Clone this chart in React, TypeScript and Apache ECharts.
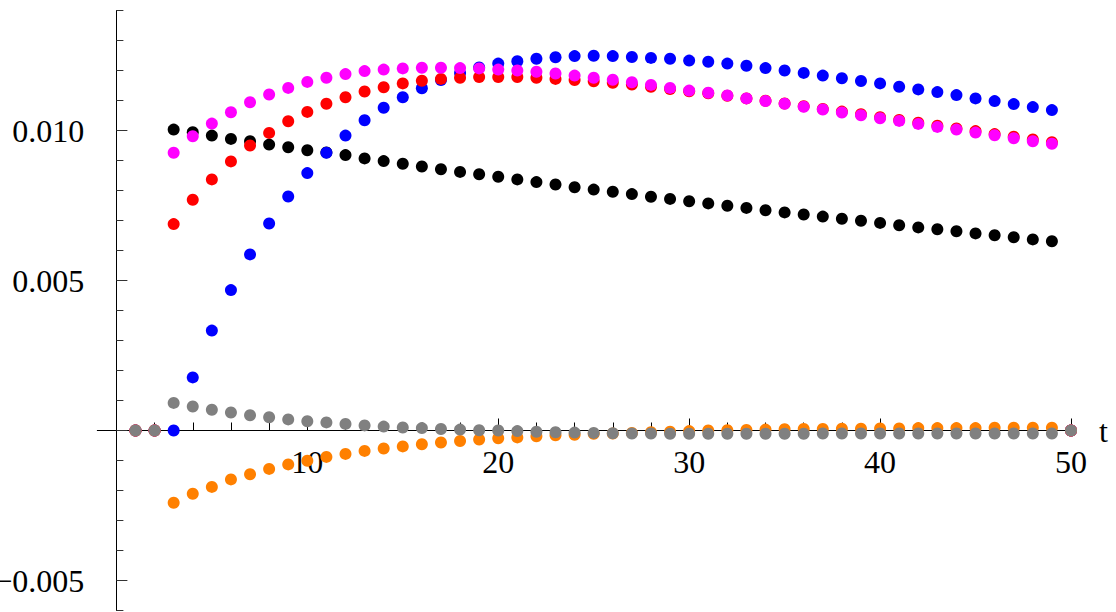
import React, { useEffect, useRef } from "react";
import * as echarts from "echarts";

// t = 1 .. 50
const tValues = Array.from({ length: 50 }, (_, i) => i + 1);

const blackVals = [0, 0, 0.01003, 0.00994, 0.00983, 0.00972, 0.00964, 0.00953, 0.00944, 0.00934, 0.00927, 0.00918, 0.00907, 0.00898, 0.00889, 0.0088, 0.00871, 0.00862, 0.00854, 0.00846, 0.00837, 0.00828, 0.0082, 0.00811, 0.00803, 0.00796, 0.00788, 0.00779, 0.00772, 0.00764, 0.00757, 0.00749, 0.00742, 0.00734, 0.00727, 0.0072, 0.00713, 0.00706, 0.00699, 0.00692, 0.00684, 0.00677, 0.00671, 0.00664, 0.00657, 0.00651, 0.00644, 0.00637, 0.00631, 0];
const blueVals = [0, 0, 0, 0.00177, 0.00333, 0.00468, 0.00587, 0.0069, 0.0078, 0.00858, 0.00926, 0.00983, 0.01034, 0.01076, 0.01111, 0.01141, 0.01168, 0.01192, 0.0121, 0.01223, 0.01231, 0.01239, 0.01244, 0.01248, 0.01249, 0.01248, 0.01245, 0.01242, 0.01239, 0.01233, 0.01229, 0.01223, 0.01216, 0.01208, 0.012, 0.01192, 0.01183, 0.01174, 0.01165, 0.01157, 0.01146, 0.01137, 0.01128, 0.01118, 0.01107, 0.01098, 0.01088, 0.01078, 0.01068, 0];
const redVals = [0, 0, 0.00688, 0.00769, 0.00837, 0.00897, 0.0095, 0.00992, 0.01031, 0.01062, 0.01089, 0.01111, 0.0113, 0.01144, 0.01157, 0.01166, 0.01172, 0.01176, 0.01178, 0.01178, 0.01178, 0.01176, 0.01172, 0.01168, 0.01164, 0.01159, 0.01153, 0.01146, 0.01138, 0.01131, 0.01124, 0.01116, 0.01107, 0.01099, 0.0109, 0.01081, 0.01072, 0.01063, 0.01054, 0.01044, 0.01035, 0.01026, 0.01016, 0.01007, 0.00998, 0.00988, 0.00979, 0.0097, 0.00961, 0];
const magentaVals = [0, 0, 0.00926, 0.00981, 0.01023, 0.01061, 0.01094, 0.0112, 0.01142, 0.01162, 0.01176, 0.01188, 0.01198, 0.01203, 0.01207, 0.01209, 0.01209, 0.01208, 0.01207, 0.01203, 0.012, 0.01196, 0.0119, 0.01183, 0.01176, 0.01169, 0.01161, 0.01152, 0.01142, 0.01133, 0.01126, 0.01117, 0.01107, 0.01098, 0.01089, 0.01079, 0.0107, 0.0106, 0.01051, 0.01041, 0.01032, 0.01022, 0.01012, 0.01003, 0.00993, 0.00984, 0.00974, 0.00964, 0.00956, 0];
const orangeVals = [0, 0, -0.00241, -0.00211, -0.00188, -0.00163, -0.00146, -0.00128, -0.00113, -0.00101, -0.00088, -0.00078, -0.00068, -0.0006, -0.00053, -0.00046, -0.0004, -0.00035, -0.0003, -0.00026, -0.00023, -0.00019, -0.00016, -0.00014, -0.00011, -0.0001, -0.00008, -0.00006, -0.00004, -0.00002, 0, 0.00001, 0.00002, 0.00003, 0.00004, 0.00005, 0.00005, 0.00006, 0.00006, 0.00007, 0.00007, 0.00008, 0.00008, 0.00008, 0.00008, 0.00009, 0.00009, 0.00009, 0.00009, 0];
const grayVals = [0, 0, 0.00092, 0.0008, 0.00069, 0.0006, 0.00051, 0.00044, 0.00037, 0.00031, 0.00027, 0.00022, 0.00017, 0.00013, 0.0001, 0.00008, 0.00005, 0.00003, 0.00001, 0, -0.00002, -0.00004, -0.00006, -0.00007, -0.00008, -0.00009, -0.0001, -0.0001, -0.00011, -0.00011, -0.00011, -0.00011, -0.00011, -0.00011, -0.00011, -0.00011, -0.0001, -0.0001, -0.0001, -0.0001, -0.0001, -0.0001, -0.0001, -0.0001, -0.0001, -0.0001, -0.0001, -0.0001, -0.0001, 0];

const xMajorTicks = [10, 20, 30, 40, 50];
const xMinorTicks = [2, 4, 6, 8, 12, 14, 16, 18, 22, 24, 26, 28, 32, 34, 36, 38, 42, 44, 46, 48];
const yMajorTicks = [-0.005, 0, 0.005, 0.01];
const yLabelValues = [-0.005, 0.005, 0.01];
const yMinorTicks = [-0.006, -0.004, -0.003, -0.002, -0.001, 0.001, 0.002, 0.003, 0.004, 0.006, 0.007, 0.008, 0.009, 0.011, 0.012, 0.013, 0.014];

const seriesDefs = [
  { name: "black", color: "#000000", values: blackVals },
  { name: "blue", color: "#0000ff", values: blueVals },
  { name: "red", color: "#ff0000", values: redVals },
  { name: "magenta", color: "#ff00ff", values: magentaVals },
  { name: "orange", color: "#ff8000", values: orangeVals },
  { name: "gray", color: "#808080", values: grayVals },
];

const FONT = "Liberation Serif";

export default function App() {
  const ref = useRef<HTMLDivElement>(null);
  useEffect(() => {
    if (!ref.current) return;
    const chart = echarts.init(ref.current, undefined, { renderer: "svg" });
    const X_MIN = -1;
    const X_MAX = 50;
    const Y_MIN = -0.006;
    const Y_MAX = 0.014;
    const GRID_TOP = 10.5;
    const GRID_BOTTOM = 1.5;
    const gridH = 612 - GRID_TOP - GRID_BOTTOM;
    // distance from grid bottom up to the y = 0 line
    const zeroOffset = -gridH * ((0 - Y_MIN) / (Y_MAX - Y_MIN));
    const lineColor = "#000";
    const tickColor = "#333";
    chart.setOption({
      animation: false,
      backgroundColor: "#fff",
      grid: { left: 97.3, right: 45, top: GRID_TOP, bottom: GRID_BOTTOM, containLabel: false, outerBoundsMode: "none" },
      xAxis: [
        {
          type: "value",
          position: "bottom",
          offset: zeroOffset,
          min: X_MIN,
          max: X_MAX,
          axisLine: { show: true, onZero: false, lineStyle: { color: lineColor, width: 1 } },
          axisTick: { show: true, inside: true, length: 12, customValues: xMajorTicks, lineStyle: { color: lineColor, width: 1 } },
          axisLabel: {
            show: true,
            customValues: xMajorTicks,
            margin: 15,
            fontSize: 32,
            fontFamily: FONT,
            color: "#000",
          },
          splitLine: { show: false },
          name: "t",
          nameLocation: "end",
          nameGap: 28,
          nameTextStyle: { fontSize: 32, fontFamily: FONT, color: "#000" },
        },
        {
          type: "value",
          position: "bottom",
          offset: zeroOffset,
          min: X_MIN,
          max: X_MAX,
          axisLine: { show: false, onZero: false },
          axisTick: { show: true, inside: true, length: 8, customValues: xMinorTicks, lineStyle: { color: lineColor, width: 1 } },
          axisLabel: { show: false },
          splitLine: { show: false },
        },
      ],
      yAxis: [
        {
          type: "value",
          position: "left",
          min: Y_MIN,
          max: Y_MAX,
          axisLine: { show: true, onZero: true, lineStyle: { color: lineColor, width: 1 } },
          axisTick: { show: true, inside: true, length: 11, customValues: yMajorTicks, lineStyle: { color: tickColor, width: 1 } },
          axisLabel: {
            show: true,
            customValues: yLabelValues,
            margin: 13,
            fontSize: 32,
            fontFamily: FONT,
            color: "#000",
            formatter: (v: number) => {
              const s = Math.abs(v).toFixed(3);
              return v < 0 ? "\u2212" + s : s;
            },
          },
          splitLine: { show: false },
        },
        {
          type: "value",
          position: "left",
          min: Y_MIN,
          max: Y_MAX,
          axisLine: { show: false, onZero: true },
          axisTick: { show: true, inside: true, length: 7, customValues: yMinorTicks, lineStyle: { color: tickColor, width: 1 } },
          axisLabel: { show: false },
          splitLine: { show: false },
        },
      ],
      series: seriesDefs.map((s) => ({
        name: s.name,
        type: "scatter",
        xAxisIndex: 0,
        yAxisIndex: 0,
        symbol: "circle",
        symbolSize: 12,
        itemStyle: { color: s.color, opacity: 1 },
        emphasis: { disabled: true },
        data: tValues.map((t, i) => [t, s.values[i]]),
      })),
    });
    return () => chart.dispose();
  }, []);
  return (
    <div
      ref={ref}
      style={{ position: "absolute", left: 0, top: 0, width: 1116, height: 612, background: "#fff" }}
    />
  );
}
